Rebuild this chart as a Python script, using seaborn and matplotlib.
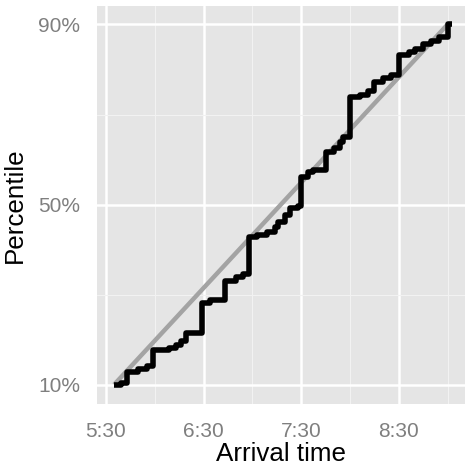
import matplotlib
matplotlib.use("Agg")
import matplotlib.pyplot as plt
import seaborn as sns
import pandas as pd
from matplotlib.ticker import FixedLocator, FuncFormatter

# Empirical arrival-time distribution (step vertices)
arrival_times = [
    "5:35", "5:39", "5:43", "5:50", "5:55", "5:59", "6:09", "6:13", "6:16", "6:19",
    "6:29", "6:34", "6:43", "6:50", "6:54", "6:58", "7:03", "7:09", "7:14", "7:16",
    "7:20", "7:23", "7:28", "7:30", "7:34", "7:37", "7:45", "7:50", "7:54", "7:56",
    "8:00", "8:06", "8:11", "8:15", "8:20", "8:25", "8:30", "8:36", "8:40", "8:45",
    "8:50", "8:55", "9:00", "9:03",
]
percentiles = [
    10.0, 10.4, 12.8, 13.4, 14.1, 17.7, 18.1, 18.8, 19.7, 21.4,
    28.1, 28.8, 33.0, 33.9, 34.6, 42.8, 43.2, 43.9, 45.0, 46.1,
    47.7, 49.2, 49.7, 56.1, 57.2, 57.7, 61.7, 62.6, 63.9, 65.0,
    73.9, 74.3, 75.2, 77.2, 78.1, 78.8, 83.2, 83.9, 84.6, 85.7,
    86.3, 87.2, 90.0, 90.0,
]

# Uniform reference line between the first and last arrival
uniform_times = ["5:35", "9:00"]
uniform_percentiles = [10.0, 90.0]

x_tick_labels = ["5:30", "6:30", "7:30", "8:30"]
x_minor_labels = ["6:00", "7:00", "8:00", "9:00"]
y_ticks = [10, 50, 90]
y_minor = [30, 70]


def to_minutes(t):
    h, m = t.split(":")
    return int(h) * 60 + int(m)


steps = pd.DataFrame({"time": [to_minutes(t) for t in arrival_times],
                      "pct": percentiles})
uniform = pd.DataFrame({"time": [to_minutes(t) for t in uniform_times],
                        "pct": uniform_percentiles})

sns.set_theme(style="darkgrid")
plt.rcParams["font.family"] = ["Liberation Sans", "DejaVu Sans"]

fig = plt.figure(figsize=(4.65, 4.69), dpi=100)
ax = fig.add_axes([97 / 465, 65 / 469, 368 / 465, 398 / 469])
ax.set_facecolor("#E5E5E5")

sns.lineplot(data=uniform, x="time", y="pct", ax=ax, color="#A3A3A3",
             linewidth=3.2, solid_capstyle="butt", estimator=None, sort=False)
sns.lineplot(data=steps, x="time", y="pct", ax=ax, color="black",
             linewidth=4.0, drawstyle="steps-post", solid_capstyle="butt",
             solid_joinstyle="round", estimator=None, sort=False)

ax.set_xlim(324.5, 550.7)
ax.set_ylim(5.7, 94.1)

ax.xaxis.set_major_locator(FixedLocator([to_minutes(t) for t in x_tick_labels]))
ax.xaxis.set_minor_locator(FixedLocator([to_minutes(t) for t in x_minor_labels]))
ax.xaxis.set_major_formatter(FuncFormatter(lambda v, p: f"{int(v) // 60}:{int(v) % 60:02d}"))
ax.yaxis.set_major_locator(FixedLocator(y_ticks))
ax.yaxis.set_minor_locator(FixedLocator(y_minor))
ax.yaxis.set_major_formatter(FuncFormatter(lambda v, p: f"{int(v)}%"))

ax.grid(which="major", color="white", linewidth=1.8)
ax.grid(which="minor", color="#F2F2F2", linewidth=0.8)
ax.set_axisbelow(True)
for s in ax.spines.values():
    s.set_visible(False)

ax.tick_params(which="major", length=7, width=1.6, color="#7F7F7F",
               labelcolor="#7F7F7F", labelsize=15, direction="out")
ax.tick_params(axis="x", which="major", pad=6)
ax.tick_params(axis="y", which="major", pad=5)
ax.tick_params(which="minor", length=0)

ax.set_xlabel("Arrival time", fontsize=18.7, color="black", labelpad=1)
ax.set_ylabel("Percentile", fontsize=18.7, color="black", labelpad=8)

fig.savefig("out.png", dpi=100)
